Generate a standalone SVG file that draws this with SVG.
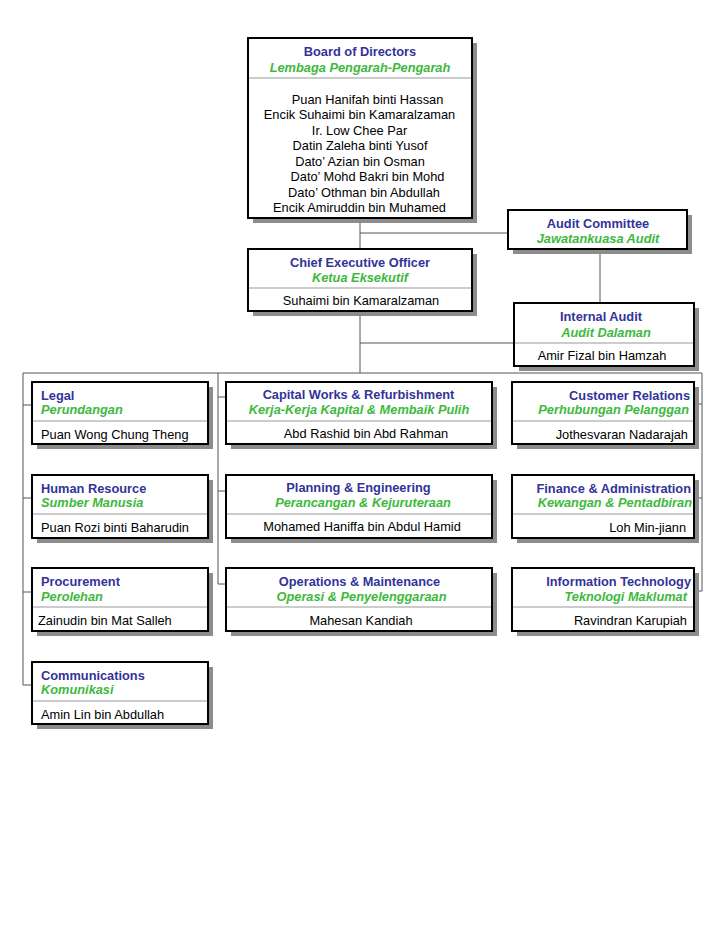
<svg xmlns="http://www.w3.org/2000/svg" width="720" height="935" viewBox="0 0 720 935">
<style>
.sh{fill:#8c8c8c}
.bx{fill:#fff;stroke:#000;stroke-width:2}
.dv{stroke:#999;stroke-width:1}
.cn{fill:none;stroke:#555;stroke-width:1}
text{font-family:"Liberation Sans",Arial,Helvetica,sans-serif;font-size:12.8px}
.t{font-weight:bold;fill:#333399}
.s{font-weight:bold;font-style:italic;fill:#3db93d}
.n{fill:#000}
.m{text-anchor:middle}
.e{text-anchor:end}
</style>
<rect width="720" height="935" fill="#fff"/>
<g id="connectors">
<path class="cn" d="M360 218V249M360 233H508M600 249V303M360 311V373M360 343H514M23 373H702"/>
<path class="cn" d="M23 373V685H32M23 405H32M23 498H32M23 592H32"/>
<path class="cn" d="M218 373V584H226M218 397H226M218 491H226"/>
<path class="cn" d="M702 373V591H694M702 404H694M702 498H694"/>
</g>
<g id="board">
<rect class="sh" x="253" y="43" width="224" height="180"/>
<rect class="bx" x="248" y="38" width="224" height="180"/>
<line class="dv" x1="249" y1="78" x2="471" y2="78"/>
<text class="t m" x="360" y="56">Board of Directors</text>
<text class="s m" x="360" y="71.5">Lembaga Pengarah-Pengarah</text>
<text class="n m" x="367.5" y="103.5">Puan Hanifah binti Hassan</text>
<text class="n m" x="359.5" y="119">Encik Suhaimi bin Kamaralzaman</text>
<text class="n m" x="359.5" y="134.5">Ir. Low Chee Par</text>
<text class="n m" x="360" y="150">Datin Zaleha binti Yusof</text>
<text class="n m" x="360" y="165.5">Dato’ Azian bin Osman</text>
<text class="n m" x="367.5" y="181">Dato’ Mohd Bakri bin Mohd</text>
<text class="n m" x="364" y="196.5">Dato’ Othman bin Abdullah</text>
<text class="n m" x="359.5" y="212">Encik Amiruddin bin Muhamed</text>
</g>
<g id="audit-committee">
<rect class="sh" x="513" y="215" width="179" height="39"/>
<rect class="bx" x="508" y="210" width="179" height="39"/>
<text class="t m" x="598" y="227.5">Audit Committee</text>
<text class="s m" x="598" y="242.5">Jawatankuasa Audit</text>
</g>
<g id="ceo">
<rect class="sh" x="253" y="254" width="224" height="62"/>
<rect class="bx" x="248" y="249" width="224" height="62"/>
<line class="dv" x1="249" y1="288" x2="471" y2="288"/>
<text class="t m" x="360" y="266.5">Chief Executive Officer</text>
<text class="s m" x="360" y="282">Ketua Eksekutif</text>
<text class="n m" x="361" y="305">Suhaimi bin Kamaralzaman</text>
</g>
<g id="internal-audit">
<rect class="sh" x="519" y="308" width="180" height="63"/>
<rect class="bx" x="514" y="303" width="180" height="63"/>
<line class="dv" x1="515" y1="343" x2="693" y2="343"/>
<text class="t m" x="601" y="321">Internal Audit</text>
<text class="s m" x="606" y="336.5">Audit Dalaman</text>
<text class="n m" x="602" y="359.5">Amir Fizal bin Hamzah</text>
</g>
<g id="legal">
<rect class="sh" x="37" y="387" width="176" height="62"/>
<rect class="bx" x="32" y="382" width="176" height="62"/>
<line class="dv" x1="33" y1="421" x2="207" y2="421"/>
<text class="t" x="41" y="399.5">Legal</text>
<text class="s" x="41" y="414">Perundangan</text>
<text class="n" x="41" y="438.5">Puan Wong Chung Theng</text>
</g>
<g id="human-resource">
<rect class="sh" x="37" y="480" width="176" height="63"/>
<rect class="bx" x="32" y="475" width="176" height="63"/>
<line class="dv" x1="33" y1="514" x2="207" y2="514"/>
<text class="t" x="41" y="492.5">Human Resource</text>
<text class="s" x="41" y="507">Sumber Manusia</text>
<text class="n" x="41" y="531.5">Puan Rozi binti Baharudin</text>
</g>
<g id="procurement">
<rect class="sh" x="37" y="573" width="176" height="63"/>
<rect class="bx" x="32" y="568" width="176" height="63"/>
<line class="dv" x1="33" y1="607" x2="207" y2="607"/>
<text class="t" x="41" y="586">Procurement</text>
<text class="s" x="41" y="600.5">Perolehan</text>
<text class="n" x="38" y="625">Zainudin bin Mat Salleh</text>
</g>
<g id="communications">
<rect class="sh" x="37" y="667" width="176" height="62"/>
<rect class="bx" x="32" y="662" width="176" height="62"/>
<line class="dv" x1="33" y1="701" x2="207" y2="701"/>
<text class="t" x="41" y="679.5">Communications</text>
<text class="s" x="41" y="694">Komunikasi</text>
<text class="n" x="41" y="718.5">Amin Lin bin Abdullah</text>
</g>
<g id="capital-works">
<rect class="sh" x="231" y="387" width="266" height="62"/>
<rect class="bx" x="226" y="382" width="266" height="62"/>
<line class="dv" x1="227" y1="421" x2="491" y2="421"/>
<text class="t m" x="358.5" y="398.5">Capital Works &amp; Refurbishment</text>
<text class="s m" x="359" y="413.5">Kerja-Kerja Kapital &amp; Membaik Pulih</text>
<text class="n m" x="366" y="437.5">Abd Rashid bin Abd Rahman</text>
</g>
<g id="planning-engineering">
<rect class="sh" x="231" y="480" width="266" height="63"/>
<rect class="bx" x="226" y="475" width="266" height="63"/>
<line class="dv" x1="227" y1="514" x2="491" y2="514"/>
<text class="t m" x="358.5" y="492">Planning &amp; Engineering</text>
<text class="s m" x="363" y="507">Perancangan &amp; Kejuruteraan</text>
<text class="n m" x="362" y="531">Mohamed Haniffa bin Abdul Hamid</text>
</g>
<g id="operations-maintenance">
<rect class="sh" x="231" y="573" width="266" height="63"/>
<rect class="bx" x="226" y="568" width="266" height="63"/>
<line class="dv" x1="227" y1="607" x2="491" y2="607"/>
<text class="t m" x="359.5" y="585.5">Operations &amp; Maintenance</text>
<text class="s m" x="361.5" y="601">Operasi &amp; Penyelenggaraan</text>
<text class="n m" x="361" y="625">Mahesan Kandiah</text>
</g>
<g id="customer-relations">
<rect class="sh" x="517" y="387" width="182" height="62"/>
<rect class="bx" x="512" y="382" width="182" height="62"/>
<line class="dv" x1="513" y1="421" x2="693" y2="421"/>
<text class="t e" x="690" y="399.5">Customer Relations</text>
<text class="s e" x="689" y="414">Perhubungan Pelanggan</text>
<text class="n e" x="688" y="438.5">Jothesvaran Nadarajah</text>
</g>
<g id="finance-administration">
<rect class="sh" x="517" y="480" width="182" height="63"/>
<rect class="bx" x="512" y="475" width="182" height="63"/>
<line class="dv" x1="513" y1="514" x2="693" y2="514"/>
<text class="t e" x="691" y="492.5">Finance &amp; Administration</text>
<text class="s e" x="692" y="507">Kewangan &amp; Pentadbiran</text>
<text class="n e" x="686" y="531.5">Loh Min-jiann</text>
</g>
<g id="information-technology">
<rect class="sh" x="517" y="573" width="182" height="63"/>
<rect class="bx" x="512" y="568" width="182" height="63"/>
<line class="dv" x1="513" y1="607" x2="693" y2="607"/>
<text class="t e" x="691" y="585.5">Information Technology</text>
<text class="s e" x="687" y="601">Teknologi Maklumat</text>
<text class="n e" x="687" y="625">Ravindran Karupiah</text>
</g>
</svg>
